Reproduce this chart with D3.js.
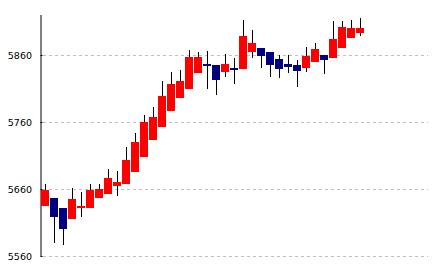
<!DOCTYPE html>
<html>
<head>
<meta charset="utf-8">
<script src="https://cdn.jsdelivr.net/npm/d3@7"></script>
<style>
  html, body { margin: 0; padding: 0; background: #fff; }
  svg { display: block; }
</style>
</head>
<body>
<script>
// ---- data ----
const openVals  = [5634,5647,5632,5616,5631,5632,5646,5653,5665,5668,5686,5708,5734,5752,5776,5796,5810,5834,5847,5845,5835,5841,5840,5865,5870,5865,5854,5847,5845,5841,5850,5860,5856,5871,5886,5893];
const highVals  = [5668,5647,5632,5661,5656,5668,5668,5690,5687,5723,5744,5771,5783,5821,5835,5838,5868,5865,5866,5845,5862,5856,5912,5897,5870,5865,5860,5860,5853,5872,5878,5860,5911,5911,5912,5915];
const lowVals   = [5634,5580,5577,5616,5618,5632,5646,5653,5650,5668,5686,5708,5734,5752,5776,5796,5810,5834,5810,5801,5828,5817,5840,5856,5841,5828,5826,5834,5813,5835,5850,5832,5856,5871,5886,5889];
const closeVals = [5659,5618,5601,5645,5634,5659,5660,5677,5671,5704,5730,5760,5768,5799,5817,5821,5857,5857,5844,5823,5847,5838,5888,5878,5859,5846,5840,5843,5837,5859,5869,5853,5884,5902,5900,5900];
const slotCount = 43;
const yTicks = [5560, 5660, 5760, 5860];
const yDomain = [5560, 5920];

// ---- layout ----
const W = 432, H = 270;
const mLeft = 41, mRight = 428, mTop = 15, mBottom = 256;

const svg = d3.select("body").append("svg").attr("width", W).attr("height", H);

const x = d3.scaleBand().domain(d3.range(slotCount)).range([mLeft, mRight]).padding(0);
const y = d3.scaleLinear().domain(yDomain).range([mBottom, mTop]);
const step = x.step();

// gridlines
svg.append("g").selectAll("line").data(yTicks).join("line")
  .attr("x1", mLeft + 2).attr("x2", mRight)
  .attr("y1", d => Math.round(y(d)) + 0.5).attr("y2", d => Math.round(y(d)) + 0.5)
  .attr("stroke", "#c0c0c0").attr("stroke-width", 1)
  .attr("stroke-dasharray", "3,3")
  .attr("shape-rendering", "crispEdges");

// y axis
const yAxis = d3.axisRight(y).tickValues(yTicks).tickSize(2).tickFormat("");
const ga = svg.append("g").attr("transform", `translate(${mLeft - 0.5},0)`).call(yAxis);
ga.select(".domain").attr("d", `M0.5,${mTop}V${mBottom + 0.5}`).attr("stroke", "#000").attr("fill", "none");
ga.selectAll(".tick line").attr("stroke", "#000");
ga.selectAll(".tick").attr("transform", d => `translate(0,${Math.round(y(d)) + 0.5})`);

// tick labels
svg.append("g").selectAll("text").data(yTicks).join("text")
  .attr("x", 32).attr("y", d => Math.round(y(d)) + 0.5)
  .attr("dy", "0.35em")
  .attr("text-anchor", "end")
  .attr("font-family", "DejaVu Sans, sans-serif")
  .attr("font-size", "9.5px")
  .attr("fill", "#000")
  .text(d => d);

const candles = openVals.map((o, i) => ({ i, o, h: highVals[i], l: lowVals[i], c: closeVals[i] }));

// wicks
svg.append("g").selectAll("line").data(candles).join("line")
  .attr("x1", d => x(d.i) + 4.5).attr("x2", d => x(d.i) + 4.5)
  .attr("y1", d => Math.round(y(d.h))).attr("y2", d => Math.round(y(d.l)))
  .attr("stroke", "#000").attr("stroke-width", 1)
  .attr("shape-rendering", "crispEdges");

// bodies
svg.append("g").selectAll("rect").data(candles).join("rect")
  .attr("x", d => x(d.i))
  .attr("width", step - 1)
  .attr("y", d => Math.round(y(Math.max(d.o, d.c))))
  .attr("height", d => Math.max(2, Math.round(y(Math.min(d.o, d.c))) - Math.round(y(Math.max(d.o, d.c)))))
  .attr("fill", d => d.c >= d.o ? "#ff0000" : "#000080")
  .attr("shape-rendering", "crispEdges");
</script>
</body>
</html>
